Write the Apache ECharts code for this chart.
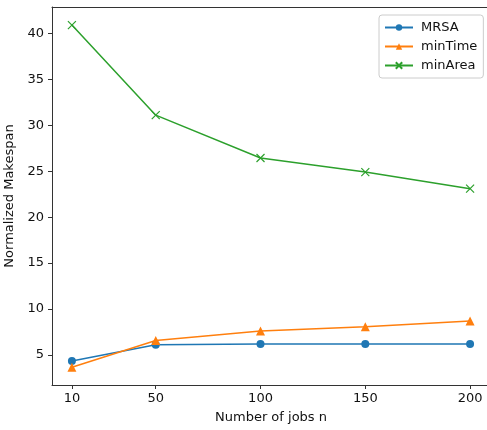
<!DOCTYPE html>
<html><head><meta charset="utf-8">
<script src="https://cdn.jsdelivr.net/npm/echarts@6/dist/echarts.min.js"></script>
<style>html,body{margin:0;padding:0;background:#fff}#c{width:487px;height:430px}</style>
</head><body><div id="c"></div>
<script>
const jobs = [10, 50, 100, 150, 200];
const mrsa = [4.35, 6.11, 6.2, 6.2, 6.2];
const minTime = [3.66, 6.58, 7.6, 8.07, 8.7];
const minArea = [40.9, 31.1, 26.44, 24.9, 23.1];
const xTicks = [10, 50, 100, 150, 200];
const yTicks = [5, 10, 15, 20, 25, 30, 35, 40];
const FONT = 'DejaVu Sans';
const pair = (xs, ys) => xs.map((x, i) => [x, ys[i]]);
const chart = echarts.init(document.getElementById('c'));
const axisCommon = {
  axisLine: {show: true, lineStyle: {color: '#333', width: 1}},
  axisTick: {show: true, length: 4, inside: false, lineStyle: {color: '#333'}},
  splitLine: {show: false},
  nameLocation: 'middle',
  nameTextStyle: {fontFamily: FONT, fontSize: 13, color: '#111'}
};
chart.setOption({
  animation: false,
  backgroundColor: '#fff',
  grid: {left: 52, top: 7, right: -3, bottom: 45, show: false,
         containLabel: false, outerBoundsMode: 'none'},
  xAxis: [Object.assign({}, axisCommon, {
    type: 'value', min: 0.5, max: 209.5, name: 'Number of jobs n', nameGap: 26,
    axisTick: Object.assign({}, axisCommon.axisTick, {customValues: xTicks}),
    axisLabel: {customValues: xTicks, fontFamily: FONT, fontSize: 13, color: '#111', margin: 7}
  }), {
    type: 'value', position: 'top', min: 0.5, max: 209.5,
    axisLine: {show: true, onZero: false, lineStyle: {color: '#333', width: 1}},
    axisTick: {show: false}, axisLabel: {show: false}, splitLine: {show: false}
  }],
  yAxis: Object.assign({}, axisCommon, {
    type: 'value', min: 1.73, max: 42.87, name: 'Normalized Makespan', nameGap: 32,
    axisTick: Object.assign({}, axisCommon.axisTick, {customValues: yTicks}),
    axisLabel: {customValues: yTicks, fontFamily: FONT, fontSize: 13, color: '#111', margin: 8}
  }),
  legend: {
    orient: 'vertical', left: 379, top: 15, width: 104,
    padding: [6, 6, 6, 5], itemGap: 6, itemWidth: 28, itemHeight: 8,
    borderColor: '#ccc', borderWidth: 1, borderRadius: 3,
    textStyle: {fontFamily: FONT, fontSize: 13, color: '#111', padding: [0, 0, 0, 3]},
    data: ['MRSA', 'minTime', 'minArea']
  },
  series: [
    {name: 'MRSA', type: 'line', data: pair(jobs, mrsa), color: '#1f77b4', symbol: 'circle', symbolSize: 8,
     lineStyle: {width: 1.5, color: '#1f77b4'}},
    {name: 'minTime', type: 'line', data: pair(jobs, minTime), color: '#ff7f0e', symbol: 'triangle', symbolSize: 9,
     lineStyle: {width: 1.5, color: '#ff7f0e'}},
    {name: 'minArea', type: 'line', data: pair(jobs, minArea), color: '#2ca02c',
     symbol: 'path://M0,0L10,10M10,0L0,10', symbolSize: 8,
     itemStyle: {color: 'none', borderColor: '#2ca02c', borderWidth: 1.2},
     lineStyle: {width: 1.5, color: '#2ca02c'}}
  ]
});
</script></body></html>
